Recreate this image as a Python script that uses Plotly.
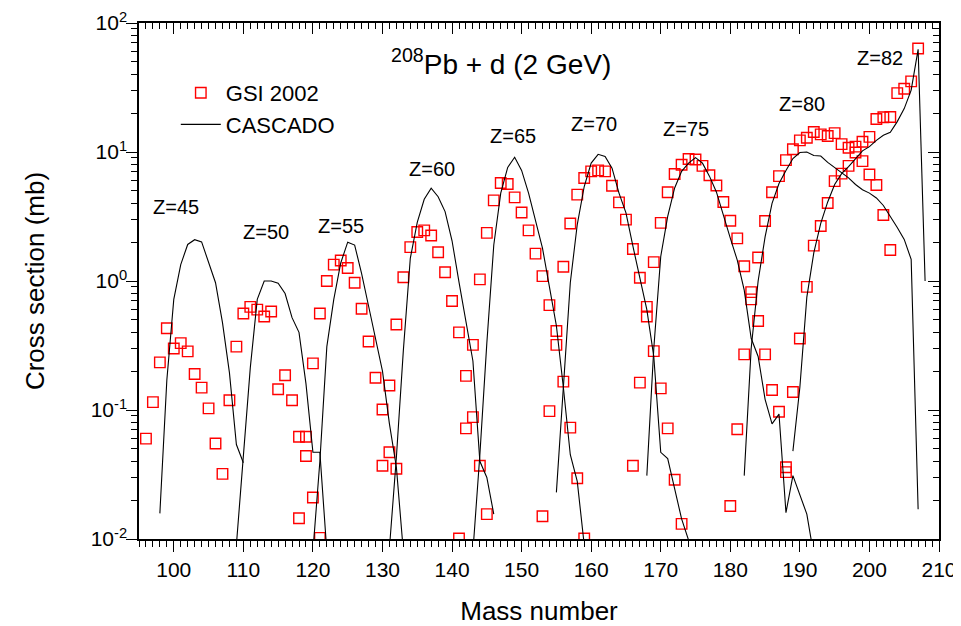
import math
import plotly.graph_objects as go

# ---------------- GSI 2002 measured cross sections (mb) ----------------
gsi_z45_a = list(range(96, 108))
gsi_z45_s = [0.060, 0.115, 0.234, 0.43, 0.30, 0.33, 0.285, 0.19, 0.149, 0.103, 0.055, 0.032]

gsi_z50_a = list(range(108, 122))
gsi_z50_s = [0.119, 0.31, 0.56, 0.63, 0.60, 0.53, 0.58, 0.145, 0.186, 0.119, 0.062, 0.044, 0.021, 0.0102]

gsi_z55_a = list(range(118, 133))
gsi_z55_s = [0.0145, 0.062, 0.23, 0.56, 1.0, 1.34, 1.44, 1.26, 0.97, 0.61, 0.34, 0.178, 0.101, 0.047, 0.035]

gsi_z60_a = list(range(130, 146))
gsi_z60_s = [0.037, 0.155, 0.46, 1.07, 1.83, 2.40, 2.47, 2.25, 1.67, 1.17, 0.70, 0.40, 0.184, 0.088, 0.037, 0.0156]

gsi_z65_a = list(range(141, 160))
gsi_z65_s = [0.0101, 0.072, 0.32, 1.03, 2.36, 4.22, 5.75, 5.65, 4.45, 3.4, 2.47, 1.63, 1.09, 0.65, 0.41,
             0.166, 0.073, 0.0296, 0.0101]

gsi_z70_a = list(range(153, 174))
gsi_z70_s = [0.015, 0.098, 0.32, 1.29, 2.79, 4.67, 6.29, 7.08, 7.2, 7.08, 5.48, 4.07, 2.99, 1.77, 1.06,
             0.63, 0.286, 0.147, 0.072, 0.0288, 0.0131]

gsi_z75_a = list(range(166, 189))
gsi_z75_s = [0.037, 0.163, 0.53, 1.40, 2.82, 4.87, 6.75, 7.97, 8.82, 8.75, 7.8, 6.6, 5.5, 4.1, 2.93,
             2.14, 1.30, 0.82, 0.49, 0.27, 0.143, 0.097, 0.036]

gsi_z80_a = list(range(180, 204))
gsi_z80_s = [0.018, 0.071, 0.27, 0.72, 1.52, 2.92, 4.88, 6.5, 8.65, 10.5, 12.3, 12.9, 14.3, 13.7, 13.3,
             14.0, 11.5, 10.8, 9.9, 8.5, 6.7, 5.55, 3.25, 1.74]

gsi_z82_a = list(range(188, 208))
gsi_z82_s = [0.033, 0.138, 0.358, 0.90, 1.88, 2.67, 4.02, 5.95, 6.8, 7.8, 11.0, 12.0, 13.1, 18.0, 18.6,
             18.7, 28.6, 30.9, 35.3, 63.5]

# ---------------- CASCADO calculation (mb) ----------------
cas_z45_a = list(range(98, 111))
cas_z45_s = [0.0158, 0.17, 0.72, 1.34, 1.92, 2.09, 2.01, 1.38, 0.97, 0.475, 0.195, 0.054, 0.039]

cas_z50_a = list(range(109, 123))
cas_z50_s = [0.009, 0.042, 0.213, 0.72, 1.0, 1.0, 0.96, 0.8, 0.52, 0.40, 0.16, 0.047, 0.047, 0.008]

cas_z55_a = list(range(120, 134))
cas_z55_s = [0.008, 0.04, 0.31, 0.72, 1.38, 2.0, 1.9, 1.14, 0.64, 0.36, 0.2, 0.078, 0.036, 0.008]

cas_z60_a = list(range(131, 147))
cas_z60_s = [0.0085, 0.043, 0.29, 1.5, 2.85, 4.3, 5.25, 4.5, 3.45, 2.05, 0.98, 0.48, 0.24, 0.04, 0.03, 0.0156]

cas_z65_a = list(range(143, 160))
cas_z65_s = [0.008, 0.045, 0.33, 1.9, 4.8, 7.6, 9.1, 7.2, 4.8, 3.0, 1.8, 0.9, 0.45, 0.15, 0.045, 0.028, 0.009]

cas_z70_a = list(range(155, 175))
cas_z70_s = [0.023, 0.15, 0.97, 2.74, 5.4, 8.2, 9.6, 9.25, 7.5, 4.8, 3.37, 1.86, 1.03, 0.60, 0.26,
             0.047, 0.042, 0.0244, 0.0143, 0.0098]

cas_z75_a = list(range(168, 193))
cas_z75_s = [0.031, 0.3, 1.55, 3.17, 5.26, 7.08, 8.2, 9.05, 8.2, 6.5, 4.9, 3.2, 2.15, 1.45, 0.85,
             0.36, 0.26, 0.121, 0.078, 0.093, 0.016, 0.031, 0.0216, 0.0156, 0.0075]

cas_z80_a = list(range(182, 208))
cas_z80_s = [0.031, 0.3, 1.0, 2.2, 4.0, 5.7, 7.2, 8.9, 9.9, 10.0, 9.4, 9.3, 8.3, 7.6, 6.95, 6.3,
             5.6, 5.1, 4.8, 4.4, 3.85, 3.2, 2.6, 2.1, 1.47, 0.017]

cas_z82_a = list(range(189, 209))
cas_z82_s = [0.048, 0.15, 0.75, 1.65, 2.8, 4.1, 5.6, 6.8, 7.7, 8.9, 10.2, 11.0, 12.3, 13.5, 14.2,
             17.2, 21.7, 30.2, 62.5, 1.0]

# ---------------- labels ----------------
z_labels = ["Z=45", "Z=50", "Z=55", "Z=60", "Z=65", "Z=70", "Z=75", "Z=80", "Z=82"]
z_label_a = [100.3, 113.2, 124.0, 137.1, 148.8, 160.4, 173.7, 190.3, 201.5]
z_label_s = [3.74, 2.39, 2.67, 7.36, 13.2, 16.4, 15.0, 23.4, 54.0]

x_major = list(range(100, 211, 10))
x_minor = [a for a in range(95, 211) if a % 10 != 0]
y_major = [0.01, 0.1, 1, 10, 100]
y_major_text = ["10<sup>-2</sup>", "10<sup>-1</sup>", "10<sup>0</sup>", "10<sup>1</sup>", "10<sup>2</sup>"]
y_minor = [m * d for d in [0.01, 0.1, 1, 10] for m in range(2, 10)]

FONT = "Liberation Sans, Arial, sans-serif"

gsi_sets = [(gsi_z45_a, gsi_z45_s), (gsi_z50_a, gsi_z50_s), (gsi_z55_a, gsi_z55_s),
            (gsi_z60_a, gsi_z60_s), (gsi_z65_a, gsi_z65_s), (gsi_z70_a, gsi_z70_s),
            (gsi_z75_a, gsi_z75_s), (gsi_z80_a, gsi_z80_s), (gsi_z82_a, gsi_z82_s)]
cas_sets = [(cas_z45_a, cas_z45_s), (cas_z50_a, cas_z50_s), (cas_z55_a, cas_z55_s),
            (cas_z60_a, cas_z60_s), (cas_z65_a, cas_z65_s), (cas_z70_a, cas_z70_s),
            (cas_z75_a, cas_z75_s), (cas_z80_a, cas_z80_s), (cas_z82_a, cas_z82_s)]

fig = go.Figure()

gx, gy = [], []
for a, s in gsi_sets:
    gx += a
    gy += s
fig.add_trace(go.Scatter(
    x=gx, y=gy, mode="markers", name="GSI 2002",
    marker=dict(symbol="square-open", size=10.5, color="#ff0000", line=dict(width=1.4, color="#ff0000")),
))

for i, (a, s) in enumerate(cas_sets):
    fig.add_trace(go.Scatter(
        x=a, y=s, mode="lines", name="CASCADO", legendgroup="cas",
        showlegend=(i == 0), line=dict(color="black", width=1.1),
    ))

# invisible trace to materialise the mirror axes (top / right)
fig.add_trace(go.Scatter(x=[], y=[], xaxis="x2", yaxis="y2", showlegend=False, hoverinfo="skip"))

annotations = []
for t, a, s in zip(z_labels, z_label_a, z_label_s):
    annotations.append(dict(x=a, y=math.log10(s), xref="x", yref="y", text=t, showarrow=False,
                            font=dict(size=20, family=FONT, color="black")))
annotations.append(dict(x=147.0, y=math.log10(50.0), xref="x", yref="y",
                        text="<sup>208</sup>Pb + d (2 GeV)", showarrow=False,
                        font=dict(size=28, family=FONT, color="black")))

axis_common = dict(showline=True, linecolor="black", linewidth=1.5, showgrid=False, zeroline=False,
                   tickcolor="black", tickwidth=1.2, automargin=False)

# the page body adds an 8 px offset, so the figure is sized to sit inside the 961x626 window
fig.update_layout(
    template="none",
    width=953, height=618,
    margin=dict(l=131, r=22, t=15, b=87, autoexpand=False),
    paper_bgcolor="white", plot_bgcolor="white",
    font=dict(family=FONT, color="black"),
    showlegend=True,
    legend=dict(x=0.046, y=0.905, xanchor="left", yanchor="top", bgcolor="rgba(0,0,0,0)",
                font=dict(size=22, family=FONT, color="black"), tracegroupgap=0, itemwidth=40),
    xaxis=dict(range=[95, 210], tickmode="array", tickvals=x_major, ticks="outside", ticklen=11,
               tickfont=dict(size=21, family=FONT, color="black"), ticklabeloverflow="allow",
               title=dict(text="Mass number", font=dict(size=26, family=FONT, color="black"), standoff=24),
               minor=dict(tickmode="array", tickvals=x_minor, ticks="outside", ticklen=6,
                          tickcolor="black", tickwidth=1.0),
               **axis_common),
    xaxis2=dict(range=[95, 210], overlaying="x", side="top", anchor="y", tickmode="array", tickvals=x_major,
                ticks="inside", ticklen=11, showticklabels=False,
                minor=dict(tickmode="array", tickvals=x_minor, ticks="inside", ticklen=6,
                           tickcolor="black", tickwidth=1.0),
                **axis_common),
    yaxis=dict(type="log", range=[-2, 2], tickmode="array", tickvals=y_major, ticktext=y_major_text,
               ticks="outside", ticklen=11, tickfont=dict(size=21, family=FONT, color="black"),
               ticklabelstandoff=-5, ticklabeloverflow="allow",
               title=dict(text="Cross section (mb)", font=dict(size=26, family=FONT, color="black"), standoff=39),
               minor=dict(tickmode="array", tickvals=y_minor, ticks="outside", ticklen=6,
                          tickcolor="black", tickwidth=1.0),
               **axis_common),
    yaxis2=dict(type="log", range=[-2, 2], overlaying="y", side="right", anchor="x", tickmode="array",
                tickvals=y_major, ticks="inside", ticklen=11, showticklabels=False,
                minor=dict(tickmode="array", tickvals=y_minor, ticks="inside", ticklen=6,
                           tickcolor="black", tickwidth=1.0),
                **axis_common),
    annotations=annotations,
)

fig.write_html("out.html")
